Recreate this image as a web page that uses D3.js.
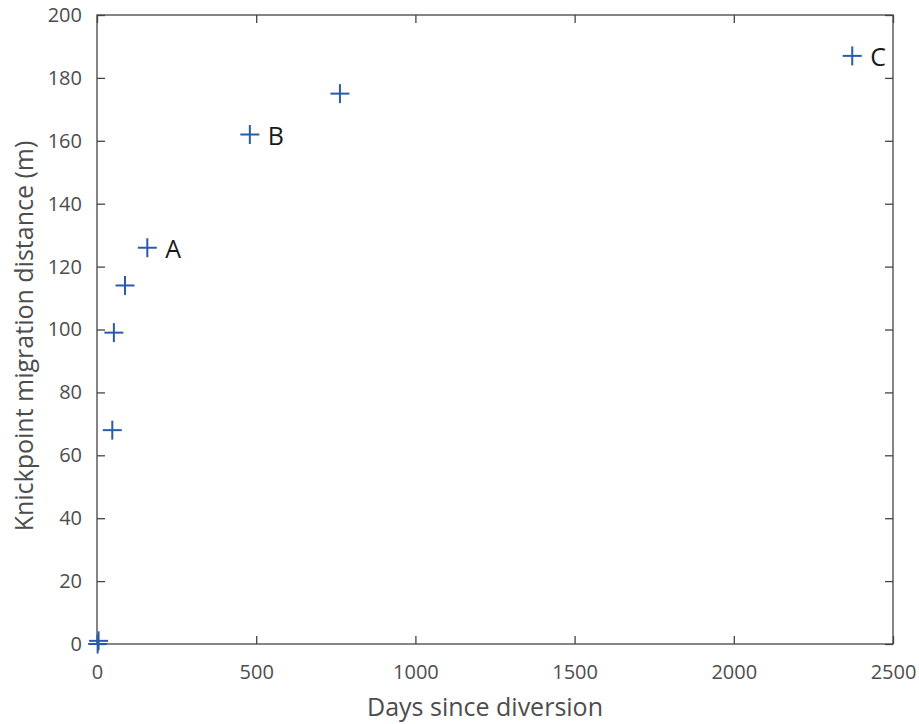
<!DOCTYPE html>
<html>
<head>
<meta charset="utf-8">
<script src="https://cdn.jsdelivr.net/npm/d3@7"></script>
<style>
  body { margin: 0; background: #fff; }
  svg { display: block; font-family: "Open Sans", sans-serif; }
</style>
</head>
<body>
<svg id="chart" width="919" height="724"></svg>
<script>
const days = [2, 5, 48, 53, 88, 158, 480, 763, 2372];
const distance = [0, 1, 68, 99, 114, 126, 162, 175, 187];
const pointLabels = ["", "", "", "", "", "A", "B", "", "C"];
const xTicks = [0, 500, 1000, 1500, 2000, 2500];
const yTicks = [0, 20, 40, 60, 80, 100, 120, 140, 160, 180, 200];
const xTitle = "Days since diversion";
const yTitle = "Knickpoint migration distance (m)";

const W = 919, H = 724;
const m = { left: 97, top: 15, right: 26, bottom: 80 };
const svg = d3.select("#chart");
const x = d3.scaleLinear().domain([0, 2500]).range([m.left, W - m.right]);
const y = d3.scaleLinear().domain([0, 200]).range([H - m.bottom, m.top]);
const axisColor = "#444";
const tickLen = 8;

const g = svg.append("g");
function styleAxis(sel) {
  sel.select(".domain").remove();
  sel.selectAll("line").attr("stroke", axisColor).attr("stroke-width", 1.3);
  sel.selectAll("text").attr("fill", "#4d4d4d").style("font-size", "20px").style("font-family", "'Open Sans', sans-serif");
}
g.append("g").attr("transform", `translate(0,${y(0)})`)
  .call(d3.axisBottom(x).tickValues(xTicks).tickSize(-tickLen).tickPadding(21).tickFormat(d3.format("d")))
  .call(styleAxis);
g.append("g").attr("transform", `translate(0,${y(200)})`)
  .call(d3.axisTop(x).tickValues(xTicks).tickSize(-tickLen).tickFormat(""))
  .call(styleAxis);
g.append("g").attr("transform", `translate(${x(0)},0)`)
  .call(d3.axisLeft(y).tickValues(yTicks).tickSize(-tickLen).tickPadding(15).tickFormat(d3.format("d")))
  .call(styleAxis);
g.append("g").attr("transform", `translate(${x(2500)},0)`)
  .call(d3.axisRight(y).tickValues(yTicks).tickSize(-tickLen).tickFormat(""))
  .call(styleAxis);

svg.append("rect")
  .attr("x", x(0)).attr("y", y(200))
  .attr("width", x(2500) - x(0)).attr("height", y(0) - y(200))
  .attr("fill", "none").attr("stroke", axisColor).attr("stroke-width", 1.3);

const pts = days.map((d, i) => ({ d, v: distance[i], label: pointLabels[i] }));
const arm = 9.5;
const mk = svg.append("g").attr("stroke", "#2a5ba8").attr("stroke-width", 2);
pts.forEach(p => {
  const cx = x(p.d), cy = y(p.v);
  mk.append("line").attr("x1", cx - arm).attr("x2", cx + arm).attr("y1", cy).attr("y2", cy);
  mk.append("line").attr("x1", cx).attr("x2", cx).attr("y1", cy - arm).attr("y2", cy + arm);
});
svg.append("g").selectAll("text").data(pts.filter(p => p.label))
  .join("text")
  .attr("x", p => x(p.d) + 18).attr("y", p => y(p.v) + 10)
  .attr("fill", "#1a1a1a").style("font-size", "25px")
  .text(p => p.label);

svg.append("text").attr("x", 485).attr("y", 716)
  .attr("text-anchor", "middle").attr("fill", "#4d4d4d").style("font-size", "25px").text(xTitle);
svg.append("text").attr("transform", `translate(33,336) rotate(-90)`)
  .attr("text-anchor", "middle").attr("fill", "#4d4d4d").style("font-size", "25px").text(yTitle);
</script>
</body>
</html>
